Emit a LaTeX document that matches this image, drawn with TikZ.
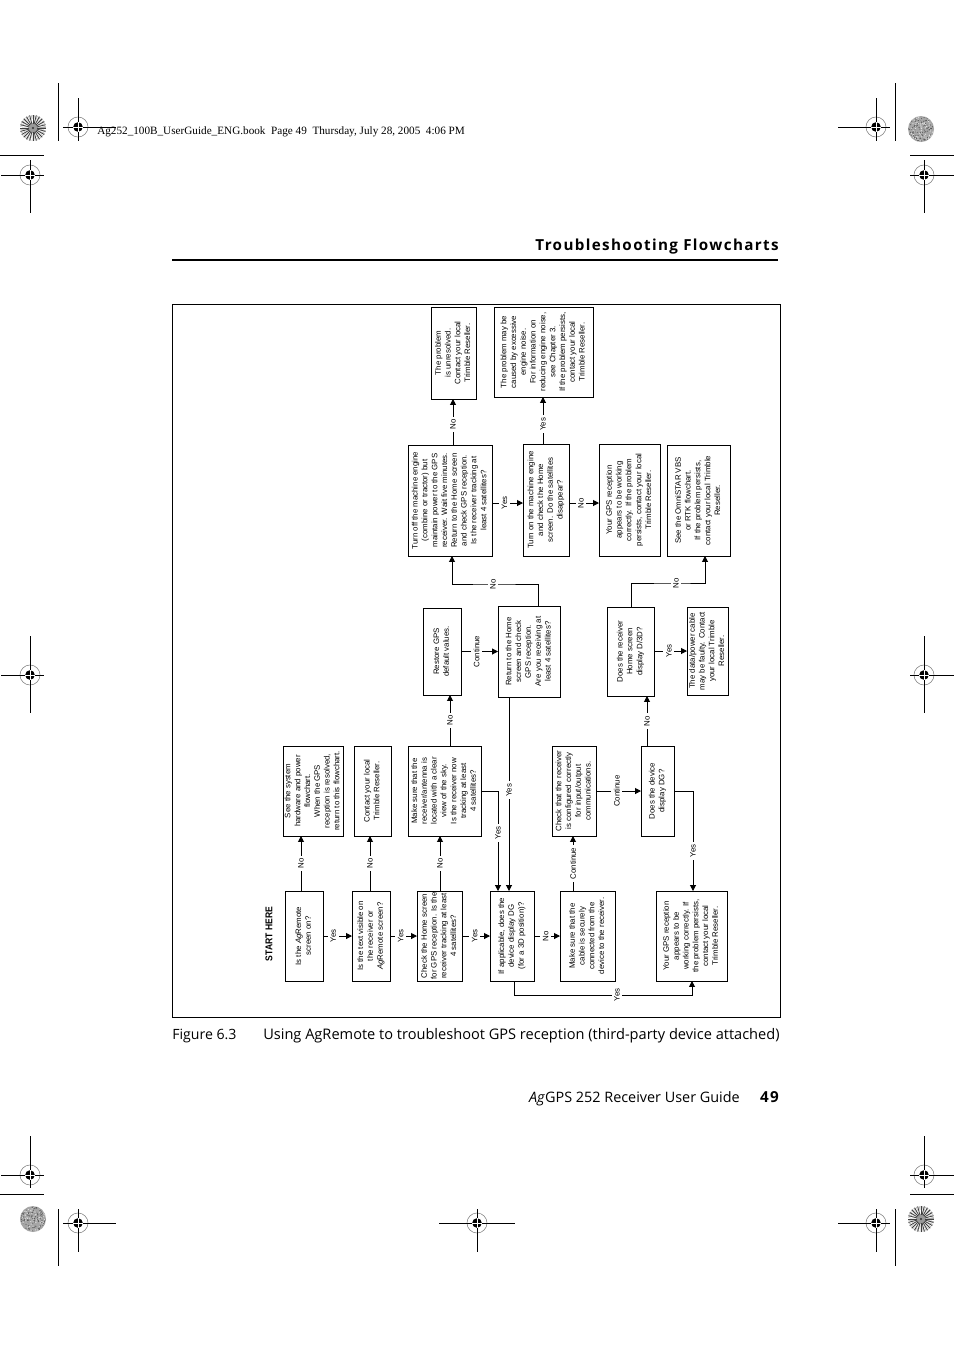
\documentclass[tikz,border=0pt]{standalone}
\usepackage{fontspec}
\setmainfont{Liberation Sans}
\newfontfamily\pagefont{Open Sans}
\newfontfamily\headfont[LetterSpace=9]{Open Sans}
\newfontfamily\topfont{Liberation Serif}
\usetikzlibrary{arrows.meta,calc}
\newcommand{\boxtxt}{\fontsize{5.9}{7.35}\selectfont}
\tikzset{
 px/.style={x=0.75pt,y=-0.75pt},
 fbox/.style={draw=black,line width=0.75pt,inner sep=0pt,outer sep=0pt,align=center},
 link/.style={draw=black,line width=0.75pt},
 arr/.style={link,-{Triangle[length=4.4pt,width=4.4pt]}},
 lab/.style={fill=white,inner sep=2pt,rotate=90,font=\fontsize{5.9}{7}\selectfont},
 trim/.style={draw=black,line width=0.75pt},
}
\newcommand{\bx}[6]{%
 \pgfmathsetmacro{\cxx}{(#2+#4)/2}\pgfmathsetmacro{\cyy}{(#3+#5)/2}%
 \pgfmathsetmacro{\www}{(#4-#2)*0.75}\pgfmathsetmacro{\hhh}{(#5-#3)*0.75}%
 \node[fbox,minimum width=\www pt,minimum height=\hhh pt] (#1) at (\cxx,\cyy) {\boxtxt\rotatebox{90}{\begin{tabular}{@{}c@{}}#6\end{tabular}}};%
}
\newcommand{\regm}[6]{% x y hleft hright vtop vbottom
 \draw[draw=gray,line width=0.4pt] (#1,#2) circle[radius=10];
 \fill[black] (#1,#2) circle[radius=4.8];
 \draw[trim] (#3,#2) -- (#4,#2);
 \draw[trim] (#1,#5) -- (#1,#6);
 \draw[white,line width=0.5pt] (#1-5,#2) -- (#1+5,#2) (#1,#2-5) -- (#1,#2+5);
}
\newcommand{\burst}[2]{%
 \fill[gray!70] (#1,#2) circle[radius=13];
 \foreach \a in {0,7,...,353} \draw[white,line width=0.55pt] ([shift={(#1,#2)}]\a:5) -- ([shift={(#1,#2)}]\a:13);
 \foreach \a in {0,15,...,345} \draw[black!75,line width=0.6pt] ([shift={(#1,#2)}]\a:4) -- ([shift={(#1,#2)}]\a:13);
 \fill[gray!80] (#1,#2) circle[radius=4];
 \fill[black!80] (#1,#2) circle[radius=1.2];
}
\newcommand{\noisy}[2]{%
 \fill[gray!70] (#1,#2) circle[radius=13];
 \pgfmathsetseed{#1}
 \foreach \i in {1,...,170} {
  \pgfmathsetmacro{\aa}{rnd*360}\pgfmathsetmacro{\rr}{sqrt(rnd)*12.4}
  \pgfmathsetmacro{\cc}{int(rnd*1.7)}
  \ifnum\cc=0 \fill[black!65] ([shift={(#1,#2)}]\aa:\rr) circle[radius=0.6];
  \else \fill[white!80!gray] ([shift={(#1,#2)}]\aa:\rr) circle[radius=0.6]; \fi
 }
}
\begin{document}
\begin{tikzpicture}[px]
\path[use as bounding box,fill=white] (0,0) rectangle (954,1350);
% printers marks
\regm{78}{127}{63}{116}{98}{141}
\regm{30}{175}{1}{44}{160}{213}
\regm{876}{127}{838}{890}{98}{141}
\regm{924}{175}{910}{954}{160}{213}
\regm{30}{675}{1}{44}{636}{713}
\regm{924}{675}{910}{954}{636}{713}
\regm{30}{1175}{1}{44}{1136}{1188}
\regm{924}{1175}{910}{954}{1136}{1188}
\regm{78}{1223}{63}{116}{1209}{1252}
\regm{477}{1223}{439}{515}{1209}{1252}
\regm{876}{1223}{838}{890}{1209}{1252}
\draw[trim] (58,83) -- (58,141);
\draw[trim] (0,155) -- (44,155);
\draw[trim] (895,83) -- (895,141);
\draw[trim] (910,155) -- (954,155);
\draw[trim] (0,1194) -- (44,1194);
\draw[trim] (58,1209) -- (58,1266);
\draw[trim] (895,1209) -- (895,1266);
\draw[trim] (910,1194) -- (954,1194);
\burst{33}{128}
\noisy{921}{129}
\noisy{33}{1219}
\burst{921}{1219}
\node[anchor=west,inner sep=0pt,font=\topfont\fontsize{8.4}{10}\selectfont] (top) at (97,132) {Ag252\_100B\_UserGuide\_ENG.book\ \ Page 49\ \ Thursday, July 28, 2005\ \ 4:06 PM};
% page head
\node[anchor=east,inner sep=0pt,font=\headfont\bfseries\fontsize{11.4}{13}\selectfont] (head) at (779,247) {Troubleshooting Flowcharts};
\draw[black,line width=1.5pt] (172,260) -- (778,260);
% frame
\draw[black,line width=0.75pt] (172,304) rectangle (780,1017);
% boxes
\bx{Aa}{285}{891}{323}{981}{Is the \textit{Ag}Remote\\screen on?}
\bx{Ab}{352}{891}{390}{981}{Is the text visible on\\the receiver or\\\textit{Ag}Remote screen?}
\bx{Ac}{417}{891}{462}{981}{Check the Home screen\\for GPS reception. Is the\\receiver tracking at least\\4 satellites?}
\bx{Ad}{490}{891}{534}{981}{If applicable, does the\\device display DG\\(for a 3D position)?}
\bx{Ae}{560}{891}{615}{981}{Make sure that the\\cable is securely\\connected from the\\device to the receiver.}
\bx{Af}{656}{891}{727}{981}{Your GPS reception\\appears to be\\working correctly. If\\the problem persists,\\contact your local\\Trimble Reseller.}
\bx{Ba}{283}{746}{343}{836}{See the system\\hardware and power\\flowchart.\\When the GPS\\reception is resolved,\\return to this flowchart.}
\bx{Bb}{354}{746}{391}{836}{Contact your local\\Trimble Reseller.}
\bx{Bc}{408}{746}{481}{836}{Make sure that the\\receiver/antenna is\\located with a clear\\view of the sky.\\Is the receiver now\\tracking at least\\4 satellites?}
\bx{Bd}{552}{746}{596}{836}{Check that the receiver\\is configured correctly\\for input/output\\communications.}
\bx{Be}{641}{746}{674}{836}{Does the device\\display DG?}
\bx{Ca}{431}{307}{476}{399}{The problem\\is unresolved.\\Contact your local\\Trimble Reseller.}
\bx{Cb}{494}{307}{593}{397}{The problem may be\\caused by excessive\\engine noise.\\For information on\\reducing engine noise,\\see Chapter 3.\\If the problem persists,\\contact your local\\Trimble Reseller.}
\bx{Cc}{408}{445}{492}{556}{Turn off the machine engine\\(combine or tractor) but\\maintain power to the GPS\\receiver. Wait five minutes.\\Return to the Home screen\\and check GPS reception.\\Is the receiver tracking at\\least 4 satellites?}
\bx{Cd}{523}{444}{569}{556}{Turn on the machine engine\\and check the Home\\screen. Do the satellites\\disappear?}
\bx{Ce}{599}{444}{660}{556}{Your GPS reception\\appears to be working\\correctly. If the problem\\persists, contact your local\\Trimble Reseller.}
\bx{Cf}{667}{445}{730}{556}{See the OmniSTAR VBS\\or RTK flowchart.\\If the problem persists,\\contact your local Trimble\\Reseller.}
\bx{Da}{607}{607}{654}{696}{Does the receiver\\Home screen\\display D/3D?}
\bx{Db}{687}{607}{728}{695}{The data/power cable\\may be faulty. Contact\\your local Trimble\\Reseller.}
\bx{Ea}{423}{608}{461}{695}{Restore GPS\\default values.}
\bx{Eb}{498}{606}{560}{697}{Return to the Home\\screen and check\\GPS reception.\\Are you receiving at\\least 4 satellites?}
\node[rotate=90,inner sep=0pt,font=\fontsize{7.4}{9}\selectfont\bfseries] (start) at (269,934) {\scalebox{0.87}[1]{START HERE}};
% connectors
\draw[arr] (Aa.north -| 301,0) -- node[lab]{No} (Ba.south -| 301,0);
\draw[arr] (Ab.north -| 370,0) -- node[lab]{No} (Bb.south -| 370,0);
\draw[arr] (Ac.north -| 440,0) -- node[lab]{No} (Bc.south -| 440,0);
\draw[arr] (Aa.east) -- node[lab,pos=.35]{Yes} (Ab.west);
\draw[arr] (Ab.east) -- node[lab,pos=.4]{Yes} (Ac.west);
\draw[arr] (Ac.east) -- node[lab,pos=.45]{Yes} (Ad.west);
\draw[arr] (Ad.east) -- node[lab,pos=.45]{No} (Ae.west);
\draw[arr] (Ae.north -| 573,0) -- node[lab]{Continue} (Bd.south -| 573,0);
\draw[arr] (Bd.east) -- node[lab,pos=.46]{Continue} (Be.west);
\draw[arr] (Bc.east) -| node[lab,pos=.71]{Yes} (Ad.north -| 498,0);
\draw[arr] (Eb.south -| 509,0) -- node[lab,pos=.48]{Yes} (Ad.north -| 509,0);
\draw[arr] (Ad.south -| 514,0) |- (617,995) node[lab]{Yes} -| (Af.south -| 692,0);
\draw[arr] (Be.east) -| node[lab,pos=.8]{Yes} (Af.north -| 693,0);
\draw[arr] (Bc.north -| 450,0) -- node[lab]{No} (Ea.south -| 450,0);
\draw[arr] (Be.north -| 647,0) -- node[lab]{No} (Da.south -| 647,0);
\draw[arr] (Ea.east) -- node[lab,pos=.42]{Continue} (Eb.west);
\draw[arr] (Da.east |- 0,651) -- node[lab,pos=.45]{Yes} (Db.west |- 0,651);
\draw[arr] (Eb.north -| 538,0) |- (493,584) node[lab]{No} -| (Cc.south -| 452,0);
\draw[arr] (Da.north -| 631,0) |- (676,583) node[lab]{No} -| (Cf.south -| 705,0);
\draw[arr] (Cc.north -| 453,0) -- node[lab,pos=.45]{No} (Ca.south -| 453,0);
\draw[arr] (Cd.north -| 543,0) -- node[lab,pos=.42]{Yes} (Cb.south -| 543,0);
\draw[arr] (Cc.east |- 0,503) -- node[lab,pos=.4]{Yes} (Cd.west |- 0,503);
\draw[arr] (Cd.east |- 0,503) -- node[lab,pos=.4]{No} (Ce.west |- 0,503);
% caption and footer
\node[anchor=west,inner sep=0pt,font=\pagefont\fontsize{10.6}{13}\selectfont] (figno) at (172,1036) {Figure 6.3};
\node[anchor=west,inner sep=0pt,font=\pagefont\fontsize{10.94}{13}\selectfont] (cap) at (263,1036) {Using AgRemote to troubleshoot GPS reception (third-party device attached)};
\node[anchor=east,inner sep=0pt,font=\pagefont\fontsize{10.8}{13}\selectfont] (foot) at (740,1099) {\textit{Ag}GPS 252 Receiver User Guide};
\node[anchor=east,inner sep=0pt,font=\headfont\bfseries\fontsize{11.4}{13}\selectfont] (pg) at (779,1097) {49};
\end{tikzpicture}
\end{document}
